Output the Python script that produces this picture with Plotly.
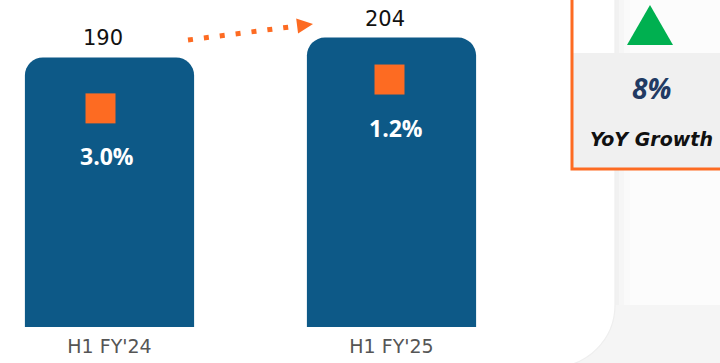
import math
import plotly.graph_objects as go

# ---- data ----
categories = ["H1 FY'24", "H1 FY'25"]
values = [190, 204]
pct_labels = ["3.0%", "1.2%"]
yoy_text = "8%"
yoy_label = "YoY Growth"

# ---- layout helpers (pixels -> paper) ----
W, H = 720, 363
BASE_PX = 327            # pixel row of the value axis zero
PX_PER_UNIT = 1.419


def fx(px):
    return px / W


def fy(py):
    return 1 - py / H


def path(points, close=True):
    s = "M " + " L ".join(f"{fx(x):.5f},{fy(y):.5f}" for x, y in points)
    return s + (" Z" if close else "")


ORANGE = "#fd6b22"
BLUE = "#0d5987"

fig = go.Figure()
fig.add_trace(go.Bar(
    x=categories, y=values,
    marker=dict(color=BLUE, cornerradius=18, line=dict(width=0)),
    width=0.6, hoverinfo="skip", showlegend=False,
))

shapes = []
# background panels
shapes.append(dict(type="rect", xref="paper", yref="paper", layer="below",
                   x0=fx(615), x1=fx(730), y0=fy(-5), y1=fy(305),
                   fillcolor="#fcfcfc", line=dict(width=0)))
for x0, x1, c in [(615, 619, "#f1f1f1"), (619, 624, "#f6f6f6"), (624, 630, "#fafafa")]:
    shapes.append(dict(type="rect", xref="paper", yref="paper", layer="below",
                       x0=fx(x0), x1=fx(x1), y0=fy(-5), y1=fy(305),
                       fillcolor=c, line=dict(width=0)))
# white card with rounded bottom-right corner
R = 62
cx, cy = 615 - R, 305
k = 0.5523 * R
card = (f"M {fx(-5):.5f},{fy(-5):.5f} L {fx(615):.5f},{fy(-5):.5f} "
        f"L {fx(615):.5f},{fy(cy):.5f} "
        f"C {fx(615):.5f},{fy(cy + k):.5f} {fx(cx + k):.5f},{fy(cy + R):.5f} {fx(cx):.5f},{fy(cy + R):.5f} "
        f"L {fx(-5):.5f},{fy(cy + R):.5f} Z")
shapes.append(dict(type="path", xref="paper", yref="paper", layer="below",
                   path=card, fillcolor="white", line=dict(color="#eeeeee", width=1.2)))

# KPI box
shapes.append(dict(type="rect", xref="paper", yref="paper", layer="below",
                   x0=fx(572), x1=fx(730), y0=fy(169), y1=fy(53),
                   fillcolor="#f0f0f0", line=dict(width=0)))
shapes.append(dict(type="rect", xref="paper", yref="paper", layer="above",
                   x0=fx(572), x1=fx(730), y0=fy(169), y1=fy(-10),
                   fillcolor="rgba(0,0,0,0)", line=dict(color=ORANGE, width=3)))
shapes.append(dict(type="path", xref="paper", yref="paper", layer="above",
                   path=path([(650, 5), (673, 45), (627, 45)]),
                   fillcolor="#00b050", line=dict(width=0)))

# dotted growth arrow
sx, sy, tx, ty = 188, 40, 313, 24
ang = math.atan2(ty - sy, tx - sx)
ux, uy = math.cos(ang), math.sin(ang)
head_len, head_half = 16, 7.5
bx, by = tx - ux * head_len, ty - uy * head_len
shapes.append(dict(type="line", xref="paper", yref="paper", layer="above",
                   x0=fx(sx), y0=fy(sy), x1=fx(bx - ux * 5), y1=fy(by - uy * 5),
                   line=dict(color=ORANGE, width=5, dash="5px,11px")))
px_, py_ = -uy, ux
shapes.append(dict(type="path", xref="paper", yref="paper", layer="above",
                   path=path([(tx, ty), (bx + px_ * head_half, by + py_ * head_half),
                              (bx - px_ * head_half, by - py_ * head_half)]),
                   fillcolor=ORANGE, line=dict(width=0)))

# orange square markers inside bars (pixel offsets from bar top)
square_drop_px = [51, 42]
square_dx_px = [-9, -2]
label_dx_px = [-3, 4]
for cat, v, drop, dx in zip(categories, values, square_drop_px, square_dx_px):
    shapes.append(dict(type="rect", xref="x", yref="y", layer="above",
                       xsizemode="pixel", ysizemode="pixel",
                       xanchor=cat, yanchor=v,
                       x0=dx - 15, x1=dx + 15, y0=-drop - 15, y1=-drop + 15,
                       fillcolor=ORANGE, line=dict(width=0)))

annotations = []
for cat, v, lab, drop, ldx in zip(categories, values, pct_labels, square_drop_px, label_dx_px):
    annotations.append(dict(x=cat, y=v, xref="x", yref="y", text=f"<b>{lab}</b>",
                            showarrow=False, xanchor="center", yanchor="middle",
                            yshift=-(drop + 48), xshift=ldx,
                            font=dict(family="Open Sans", size=23, color="white")))
    annotations.append(dict(x=cat, y=v, xref="x", yref="y", text=str(v),
                            showarrow=False, xanchor="center", yanchor="middle",
                            yshift=19, xshift=-7,
                            font=dict(family="DejaVu Sans", size=21, color="#111111")))

annotations.append(dict(x=fx(651), y=fy(88), xref="paper", yref="paper",
                        text=f"<b><i>{yoy_text}</i></b>", showarrow=False,
                        xanchor="center", yanchor="middle",
                        font=dict(family="Open Sans", size=28, color="#213a63")))
annotations.append(dict(x=fx(651), y=fy(139), xref="paper", yref="paper",
                        text=f"<b><i>{yoy_label}</i></b>", showarrow=False,
                        xanchor="center", yanchor="middle",
                        font=dict(family="DejaVu Sans", size=19, color="#111111")))

left = -109.5 / 282
right = (W - 109.5) / 282
fig.update_layout(
    width=W, height=H,
    margin=dict(l=0, r=0, t=0, b=0),
    paper_bgcolor="#f5f5f5", plot_bgcolor="rgba(0,0,0,0)",
    shapes=shapes, annotations=annotations,
    bargap=0.4,
    xaxis=dict(domain=[0, 1], range=[left, right], showgrid=False, zeroline=False,
               showline=False, ticks="", ticklabelstandoff=6,
               tickfont=dict(family="DejaVu Sans", size=19, color="#555555")),
    yaxis=dict(domain=[(H - BASE_PX) / H, 1], range=[0, BASE_PX / PX_PER_UNIT],
               visible=False, showgrid=False, zeroline=False),
    showlegend=False,
)

fig.write_html("out.html")
